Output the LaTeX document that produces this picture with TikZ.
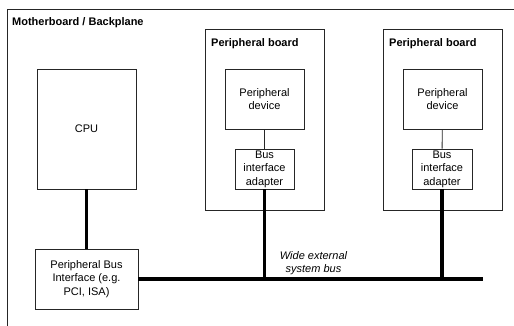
\documentclass[tikz,border=0pt]{standalone}
\usepackage{fontspec}
\setmainfont{Liberation Sans}
\begin{document}
\begin{tikzpicture}[x=1pt,y=-1pt,
  box/.style={draw=black!85,line width=0.9pt,rectangle,inner sep=0pt,align=center,
    font=\fontsize{11}{13.5}\selectfont},
  title/.style={anchor=base west,inner sep=0pt,font=\fontsize{11}{13.5}\selectfont\bfseries},
  thin/.style={draw=black!85,line width=0.9pt},
  bus/.style={draw=black,line width=3.5pt}]
\useasboundingbox (0,0) rectangle (514,325);
\clip (0,0) rectangle (514,325);
\draw[black!85,line width=0.9pt] (7,9) rectangle (530,340);
\node[title] (mbtitle) at (12,25.5) {Motherboard / Backplane};
\node[box,minimum width=99pt,minimum height=120pt] (cpu) at (86.5,129) {CPU};
\node[box,minimum width=103pt,minimum height=60pt] (pbi) at (86.5,279) {Peripheral Bus\\Interface (e.g.\\PCI, ISA)};
\node[box,minimum width=119pt,minimum height=181pt] (board1) at (264.5,119.5) {};
\node[box,minimum width=119pt,minimum height=181pt] (board2) at (442.5,119.5) {};
\node[title] (t1) at (211,46) {Peripheral board};
\node[title] (t2) at (389,46) {Peripheral board};
\node[box,minimum width=79pt,minimum height=60pt] (dev1) at (264.5,99) {Peripheral\\device};
\node[box,minimum width=79pt,minimum height=60pt] (dev2) at (442.5,99) {Peripheral\\device};
\node[box,minimum width=59pt,minimum height=40pt] (ad1) at (264.5,169) {Bus\\interface\\adapter};
\node[box,minimum width=60pt,minimum height=40pt] (ad2) at (442,169) {Bus\\interface\\adapter};
\draw[thin] (dev1) -- (ad1);
\draw[thin] (dev2) -- (ad2);
\coordinate (busend) at (483,279);
\coordinate (j1) at (264.5,279);
\coordinate (j2) at (442,279);
\draw[bus] (cpu.south) -- (pbi.north);
\draw[bus] (pbi.east) -- (busend);
\draw[bus] (ad1.south) -- (j1);
\draw[bus] (ad2.south) -- (j2);
\node[align=center,inner sep=0pt,font=\fontsize{11}{12.5}\selectfont\itshape] (buslabel) at (313.5,263) {Wide external\\system bus};
\end{tikzpicture}
\end{document}
